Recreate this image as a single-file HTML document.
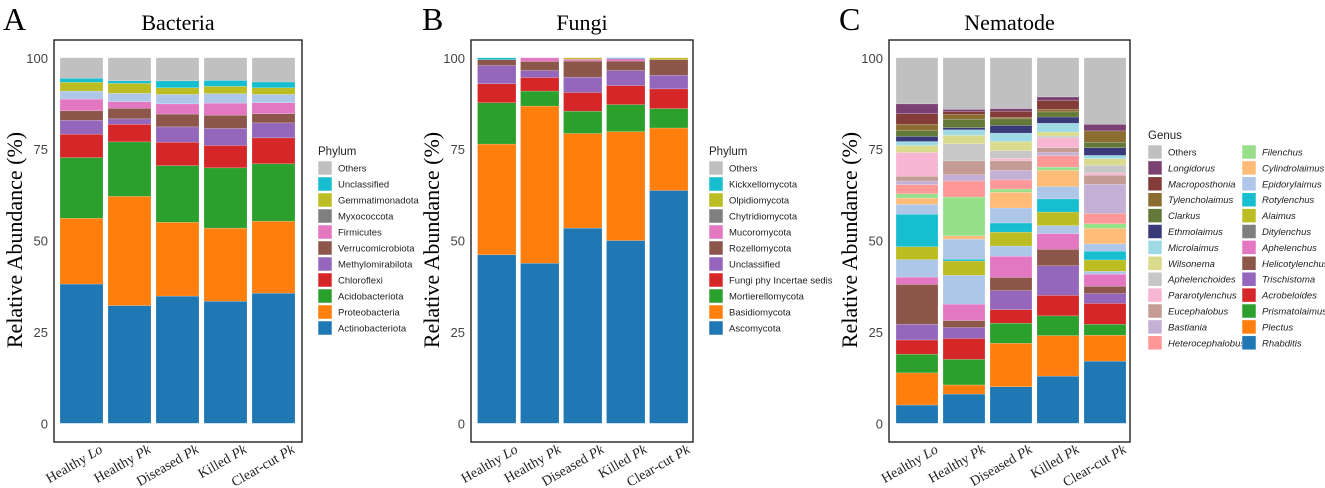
<!DOCTYPE html>
<html><head><meta charset="utf-8"><style>
html,body{margin:0;padding:0;background:#fff;}
svg{display:block;font-family:"Liberation Sans",sans-serif;}
</style></head><body>
<svg id="chart" width="1325" height="488" viewBox="0 0 1325 488" xmlns="http://www.w3.org/2000/svg"></svg>
<script>
const samples = ["Healthy Lo","Healthy Pk","Diseased Pk","Killed Pk","Clear-cut Pk"];
const tickLabels = [0,25,50,75,100];

// Bacteria: cumulative tops per layer (bottom->top), per sample
const bacLayers = ["Actinobacteriota","Proteobacteria","Acidobacteriota","Chloroflexi","Methylomirabilota","Verrucomicrobiota","Firmicutes","Myxococcota","Gemmatimonadota","Unclassified","Others"];
const bacCum = [
 [38.1,56.1,72.7,79.1,82.9,85.5,88.7,90.9,93.3,94.4,100],
 [32.2,62.1,77.0,81.8,83.3,86.2,88.0,90.3,93.0,93.7,100],
 [34.8,55.0,70.5,76.9,81.1,84.6,87.4,90.0,91.8,93.7,100],
 [33.4,53.4,69.9,76.0,80.7,84.3,87.6,90.2,92.2,93.8,100],
 [35.6,55.3,71.0,78.1,82.2,84.7,87.7,90.0,91.8,93.4,100]
];
const bacBarColors = ["#1f77b4","#ff7f0e","#2ca02c","#d62728","#9467bd","#8c564b","#e377c2","#aec7e8","#bcbd22","#17becf","#c0c0c0"];
const bacLegColors = ["#1f77b4","#ff7f0e","#2ca02c","#d62728","#9467bd","#8c564b","#e377c2","#7f7f7f","#bcbd22","#17becf","#c0c0c0"];

// Fungi
const funLayers = ["Ascomycota","Basidiomycota","Mortierellomycota","Fungi phy Incertae sedis","Unclassified","Rozellomycota","Mucoromycota","Chytridiomycota","Olpidiomycota","Kickxellomycota","Others"];
const funCum = [
 [46.1,76.4,87.7,92.9,97.9,99.5,99.5,99.5,99.5,100,100],
 [43.8,86.8,90.9,94.6,96.5,99.0,100,100,100,100,100],
 [53.4,79.3,85.4,90.5,94.7,99.1,99.6,99.6,100,100,100],
 [50.0,79.8,87.2,92.4,96.5,99.1,99.8,99.8,99.8,100,100],
 [63.7,80.8,86.1,91.5,95.2,99.5,99.5,99.5,100,100,100]
];
const funColors = ["#1f77b4","#ff7f0e","#2ca02c","#d62728","#9467bd","#8c564b","#e377c2","#7f7f7f","#bcbd22","#17becf","#c0c0c0"];

// Nematode
const nemLayers = ["Rhabditis","Plectus","Prismatolaimus","Acrobeloides","Trischistoma","Helicotylenchus","Aphelenchus","Ditylenchus","Alaimus","Rotylenchus","Epidorylaimus","Cylindrolaimus","Filenchus","Heterocephalobus","Bastiania","Eucephalobus","Pararotylenchus","Aphelenchoides","Wilsonema","Microlaimus","Ethmolaimus","Clarkus","Tylencholaimus","Macroposthonia","Longidorus","Others"];
const nemCum = [
 [5.0,13.8,18.9,22.8,27.1,38.0,40.0,44.8,48.3,57.2,59.9,61.6,62.8,65.3,66.3,67.6,74.1,74.1,76.0,77.1,78.5,80.1,81.8,84.7,87.4,100],
 [8.0,10.5,17.5,23.2,26.2,28.1,32.6,40.5,44.4,44.9,50.4,51.3,61.9,66.3,68.0,71.8,71.8,76.5,78.8,80.3,80.9,83.2,84.5,85.3,85.9,100],
 [10.0,21.9,27.4,31.1,36.3,39.9,45.7,48.5,52.3,54.8,58.9,63.2,64.1,66.6,69.2,71.8,72.5,74.6,77.1,79.4,81.5,83.3,83.7,85.4,86.1,100],
 [12.9,24.0,29.4,35.0,43.1,47.6,51.9,54.1,57.8,61.4,64.8,69.2,70.1,73.2,74.1,75.4,78.1,78.6,79.7,82.1,83.8,85.2,85.9,88.3,89.3,100],
 [17.0,24.1,27.1,32.8,35.5,37.5,40.8,41.6,44.7,47.1,49.1,53.3,54.6,57.4,65.4,67.9,68.5,70.6,72.4,73.3,75.4,76.9,80.0,80.0,81.8,100]
];
const nemBarColors = ["#1f77b4","#ff7f0e","#2ca02c","#d62728","#9467bd","#8c564b","#e377c2","#aec7e8","#bcbd22","#17becf","#aec7e8","#ffbb78","#98df8a","#ff9896","#c5b0d5","#c49c94","#f7b6d2","#c7c7c7","#dbdb8d","#9edae5","#393b79","#637939","#8c6d31","#843c39","#7b4173","#c0c0c0"];
const nemLegColors = ["#1f77b4","#ff7f0e","#2ca02c","#d62728","#9467bd","#8c564b","#e377c2","#7f7f7f","#bcbd22","#17becf","#aec7e8","#ffbb78","#98df8a","#ff9896","#c5b0d5","#c49c94","#f7b6d2","#c7c7c7","#dbdb8d","#9edae5","#393b79","#637939","#8c6d31","#843c39","#7b4173","#c0c0c0"];

const NS="http://www.w3.org/2000/svg";
const svg=document.getElementById('chart');
function mk(tag,attrs,parent,text){const e=document.createElementNS(NS,tag);for(const k in attrs)e.setAttribute(k,attrs[k]);if(text!==undefined)e.textContent=text;(parent||svg).appendChild(e);return e;}

function panel(cfg){
  const g=mk('g',{});
  
  
  const y0=423.3,y100=57.8;
  const yS=v=>y0-(v/100)*(y0-y100);
  const xS=i=>cfg.bar0+i*cfg.pitch;
  const L=mk('text',{x:cfg.letterX,y:30,'font-family':'Liberation Serif,serif','font-size':32},g,cfg.letter);
  
  
  const T=mk('text',{x:(cfg.boxL+cfg.boxR)/2,y:30,'text-anchor':'middle','font-family':'Liberation Serif,serif','font-size':22},g,cfg.title);
  
  
  cfg.cum.forEach((cum,i)=>{
    let prev=0;
    cum.forEach((top,j)=>{
      if(top-prev>0.01){
        const r=mk('rect',{x:xS(i),y:yS(top),width:cfg.bw,height:yS(prev)-yS(top),fill:cfg.barColors[j],stroke:'#fff','stroke-opacity':0.35,'stroke-width':0.5},g);
        
        
      }
      prev=top;
    });
    const cx=xS(i)+cfg.bw/2+22, cy=452;
    const parts=samples[i].split(' ');
    const xl=mk('text',{transform:`translate(${cx},${cy}) rotate(-30)`,'text-anchor':'end','font-family':'Liberation Serif,serif','font-size':14,fill:'#222'},g);
    
    
    mk('tspan',{},xl,parts[0]+' ');
    mk('tspan',{'font-style':'italic'},xl,parts[1]);
  });
  const b=mk('rect',{x:cfg.boxL,y:40,width:cfg.boxR-cfg.boxL,height:402,fill:'none',stroke:'#222','stroke-width':1.4},g);
  
  
  tickLabels.forEach(t=>{
    const tl=mk('text',{x:cfg.boxL-6,y:yS(t)+5,'text-anchor':'end','font-size':13,fill:'#444'},g,String(t));
    
    
  });
  const yt=mk('text',{transform:`translate(${cfg.boxL-32},240) rotate(-90)`,'text-anchor':'middle','font-family':'Liberation Serif,serif','font-size':22},g,'Relative Abundance (%)');
  
  
  const lg=mk('g',{},g);
  
  
  mk('text',{x:cfg.legX,y:cfg.legTitleY,'font-size':11.5,fill:'#222'},lg,cfg.legTitle);
  const n=cfg.layers.length;
  const colW=cfg.colW||0;
  const perCol=cfg.cols===2?Math.ceil(n/2):n;
  const items=cfg.layers.map((nm,j)=>({nm,c:cfg.legColors[j]})).reverse();
  items.forEach((it,k)=>{
    const col=Math.floor(k/perCol);
    const row=k%perCol;
    const sx=cfg.legX+col*colW, sy=cfg.rowY0+row*cfg.rowH;
    const e=mk('g',{},lg);
    
    
    mk('rect',{x:sx,y:sy-7,width:14,height:14,fill:it.c,stroke:'#fff','stroke-width':0.5},e);
    mk('text',{x:sx+20,y:sy+3.5,'font-size':9.5,fill:'#222','font-style':(cfg.italic&&it.nm!=='Others')?'italic':'normal'},e,it.nm);
  });
}

panel({key:'bacteria',letter:'A',letterX:3,title:'Bacteria',boxL:54,boxR:302,bar0:60,pitch:48,bw:43,cum:bacCum,barColors:bacBarColors,legColors:bacLegColors,layers:bacLayers,legX:318,legTitle:'Phylum',legTitleY:155,rowY0:168,rowH:16,cols:1});
panel({key:'fungi',letter:'B',letterX:422,title:'Fungi',boxL:471,boxR:693,bar0:477.5,pitch:43,bw:38.5,cum:funCum,barColors:funColors,legColors:funColors,layers:funLayers,legX:709,legTitle:'Phylum',legTitleY:155,rowY0:168,rowH:16,cols:1});
panel({key:'nematode',letter:'C',letterX:839,title:'Nematode',boxL:889,boxR:1130,bar0:896,pitch:47,bw:42,cum:nemCum,barColors:nemBarColors,legColors:nemLegColors,layers:nemLayers,legX:1148,legTitle:'Genus',legTitleY:139,rowY0:152,rowH:15.9,cols:2,colW:94,italic:true});
</script>
</body></html>
